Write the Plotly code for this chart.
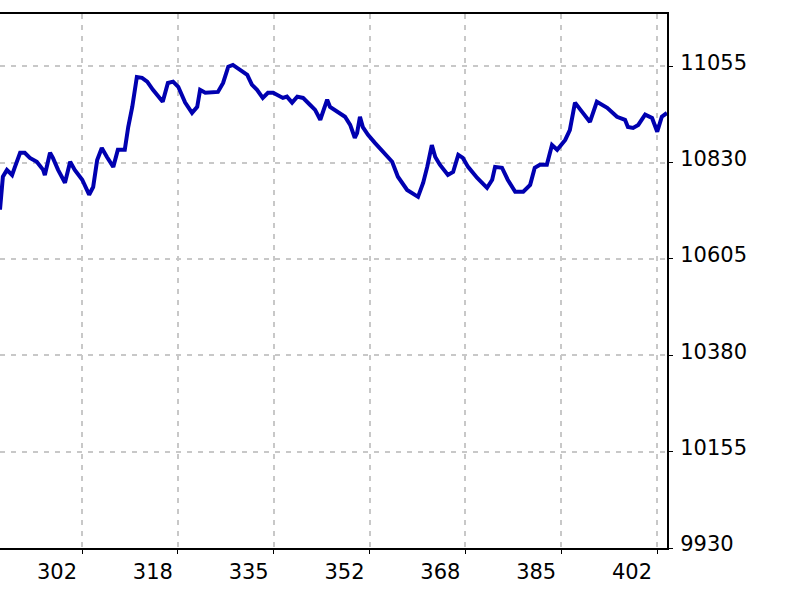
import plotly.graph_objects as go

# traced series (x in sample units, y in price units)
steps = [287.4, 287.9, 288.6, 289.5, 290.0, 290.9, 291.7, 292.6, 293.8, 294.9,
         295.2, 296.1, 296.6, 297.5, 298.7, 299.6, 300.4, 301.7, 302.9, 303.6,
         304.3, 305.1, 306.0, 307.1, 307.9, 309.1, 309.7, 310.4, 311.2, 312.1,
         313.0, 314.0, 315.7, 316.6, 317.5, 318.4, 319.6, 320.8, 321.7, 322.2,
         323.1, 323.9, 325.3, 326.2, 327.1, 327.9, 329.1, 330.4, 331.2, 332.1,
         333.1, 334.0, 334.9, 335.7, 336.6, 337.3, 338.2, 339.1, 340.1, 341.3,
         342.2, 343.1, 343.4, 344.3, 344.8, 346.0, 347.4, 348.3, 349.1, 349.5,
         350.0, 350.5, 351.4, 352.6, 354.0, 355.6, 356.6, 358.2, 360.1, 361.0,
         361.7, 362.5, 363.1, 363.9, 365.3, 366.2, 367.1, 367.9, 368.8, 370.4,
         372.1, 373.0, 373.5, 374.7, 375.7, 377.0, 378.4, 379.6, 380.4, 381.3,
         382.5, 383.4, 384.3, 385.7, 386.5, 387.4, 388.6, 390.0, 391.2, 393.0,
         394.7, 396.1, 396.6, 397.5, 398.4, 399.6, 400.8, 401.7, 402.5, 403.4]

balance = [10720, 10797, 10813, 10801, 10820, 10853, 10853, 10841, 10832, 10813,
           10801, 10853, 10841, 10813, 10783, 10832, 10813, 10790, 10755, 10773,
           10836, 10864, 10843, 10820, 10860, 10860, 10913, 10960, 11030, 11028,
           11019, 11000, 10972, 11016, 11019, 11007, 10970, 10946, 10960, 11000,
           10993, 10993, 10995, 11016, 11054, 11058, 11047, 11035, 11012, 11000,
           10981, 10993, 10993, 10988, 10981, 10984, 10970, 10984, 10981, 10965,
           10953, 10930, 10942, 10977, 10960, 10949, 10937, 10918, 10888, 10899,
           10937, 10913, 10895, 10876, 10855, 10832, 10797, 10766, 10750, 10783,
           10820, 10871, 10843, 10825, 10801, 10808, 10848, 10841, 10820, 10794,
           10771, 10790, 10820, 10818, 10790, 10762, 10762, 10778, 10818, 10825,
           10825, 10871, 10860, 10883, 10906, 10970, 10949, 10925, 10972, 10958,
           10937, 10930, 10913, 10911, 10918, 10942, 10934, 10902, 10937, 10946]

x_tickvals = [301.67, 318.33, 335.0, 351.67, 368.33, 385.0, 401.67]
x_ticktext = ["302", "318", "335", "352", "368", "385", "402"]
y_tickvals = [9930, 10155, 10380, 10605, 10830, 11055]
y_ticktext = ["9930", "10155", "10380", "10605", "10830", "11055"]

fig = go.Figure()
fig.add_trace(go.Scatter(x=steps, y=balance, mode="lines",
                         line=dict(color="#0000b0", width=4)))

fig.update_layout(
    width=800, height=600,
    margin=dict(l=0, r=133, t=14, b=52),
    plot_bgcolor="white", paper_bgcolor="white",
    showlegend=False,
    font=dict(family="DejaVu Sans", size=21, color="black"),
)
# labels sit just left of their ticks, like the source terminal chart
fig.update_xaxes(range=[287.4, 403.4], tickvals=x_tickvals, ticktext=x_ticktext,
                 showgrid=True, gridcolor="#c8c8c8", gridwidth=1.5, griddash="5px,6px",
                 showline=True, linecolor="black", linewidth=2, mirror=True,
                 ticks="outside", ticklen=4, tickcolor="black", zeroline=False,
                 ticklabelshift=-25)
fig.update_yaxes(range=[9930, 11177], tickvals=y_tickvals, ticktext=y_ticktext,
                 side="right",
                 showgrid=True, gridcolor="#c8c8c8", gridwidth=1.5, griddash="5px,6px",
                 showline=True, linecolor="black", linewidth=2,
                 ticks="outside", ticklen=4, tickcolor="black", zeroline=False,
                 ticklabelstandoff=3, ticklabelshift=-4)

# drop the page's default body margin so the figure sits at the window corner
fig.write_html("out.html", config={"displayModeBar": False},
               post_script="document.body.style.margin='0';")
